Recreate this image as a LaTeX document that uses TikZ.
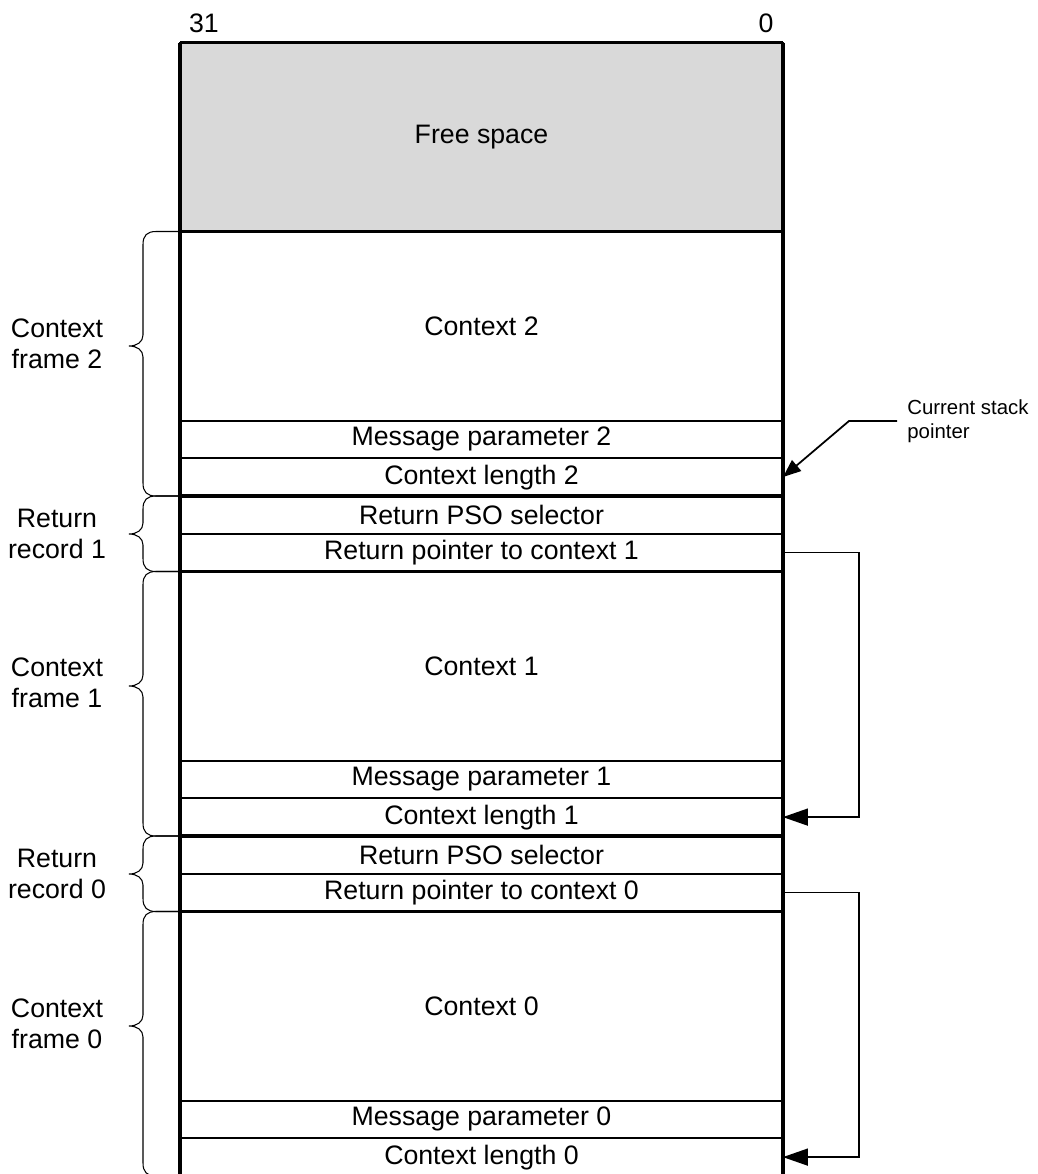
\documentclass[tikz,border=0pt]{standalone}
\usepackage{fontspec}
\setmainfont{Liberation Sans}
\usetikzlibrary{arrows.meta}
\definecolor{freegray}{RGB}{217,217,217}

% left curly brace: top, tip, bottom (in px units of the picture)
\newcommand{\framebrace}[3]{%
\draw[bracestroke] (180,#1) -- (156,#1) .. controls (147,#1) and (143,#1+4) .. (143,#1+13)
  -- (143,#2-11) .. controls (143,#2-4) and (137,#2) .. (129,#2)
  .. controls (137,#2) and (143,#2+4) .. (143,#2+11)
  -- (143,#3-13) .. controls (143,#3-4) and (147,#3) .. (156,#3) -- (180,#3);}

\tikzset{
  cell/.style={draw, line width=1.1pt, outer sep=0pt, inner sep=0pt,
    minimum width=12.06cm, minimum height=0.755cm,
    font=\fontsize{15.2}{17.8}\selectfont},
  bigcell/.style={cell, minimum height=3.78cm},
  framelabel/.style={align=center, font=\fontsize{15.2}{17.8}\selectfont},
  note/.style={align=left, anchor=west, inner sep=0.2cm,
    font=\fontsize{11.6}{13.8}\selectfont},
  border/.style={line width=1.8pt},
  bracestroke/.style={line width=0.6pt},
  ptr/.style={line width=0.9pt, -{Triangle[length=0.5cm,width=0.34cm]}},
}

\begin{document}
\begin{tikzpicture}[x=0.02cm,y=-0.02cm]
\useasboundingbox (0,0) rectangle (1038,1174);
\clip (0,0) rectangle (1038,1174);

\node[framelabel] (msb) at (204,23) {31};
\node[framelabel] (lsb) at (766,23) {0};

\node[bigcell, fill=freegray] (free) at (481.5,137) {Free space};
\node[bigcell] (c2) at (481.5,326) {Context 2};
\node[cell] (mp2) at (481.5,439.4) {Message parameter 2};
\node[cell] (cl2) at (481.5,477.1) {Context length 2};
\node[cell] (rps1) at (481.5,514.9) {Return PSO selector};
\node[cell] (rp1) at (481.5,552.6) {Return pointer to context 1};
\node[bigcell] (c1) at (481.5,666) {Context 1};
\node[cell] (mp1) at (481.5,779.4) {Message parameter 1};
\node[cell] (cl1) at (481.5,817.1) {Context length 1};
\node[cell] (rps0) at (481.5,854.9) {Return PSO selector};
\node[cell] (rp0) at (481.5,892.6) {Return pointer to context 0};
\node[bigcell] (c0) at (481.5,1006) {Context 0};
\node[cell] (mp0) at (481.5,1119.4) {Message parameter 0};
\node[cell] (cl0) at (481.5,1157.1) {Context length 0};

% heavy lines between frames
\draw[border] (free.north west) -- (free.north east);
\draw[border] (free.south west) -- (free.south east);
\draw[border] (cl2.south west) -- (cl2.south east);
\draw[border] (rp1.south west) -- (rp1.south east);
\draw[border] (cl1.south west) -- (cl1.south east);
\draw[border] (rp0.south west) -- (rp0.south east);
\draw[border] (free.north west) -- (cl0.south west);
\draw[border] (free.north east) -- (cl0.south east);

% frames on the left
\node[framelabel] (cf2) at (57,344) {Context\\frame 2};
\node[framelabel] (rr1) at (57,534) {Return\\record 1};
\node[framelabel] (cf1) at (57,683) {Context\\frame 1};
\node[framelabel] (rr0) at (57,874) {Return\\record 0};
\node[framelabel] (cf0) at (57,1024) {Context\\frame 0};
\framebrace{231.5}{346}{496}
\framebrace{496}{534}{571.5}
\framebrace{571.5}{686}{836}
\framebrace{836}{874}{911.5}
\framebrace{911.5}{1026}{1176}

% return pointers
\draw[ptr] (rp1.east) -- ++(76,0) |- (cl1.east);
\draw[ptr] (rp0.east) -- ++(76,0) |- (cl0.east);

% stack pointer
\node[note] (sp) at (897,421) {Current stack\\pointer};
\coordinate (spbend) at (849,421);
\draw[line width=1pt, -{Triangle[length=0.36cm,width=0.28cm]}] (sp.west) -- (spbend) -- (cl2.east);
\end{tikzpicture}
\end{document}
